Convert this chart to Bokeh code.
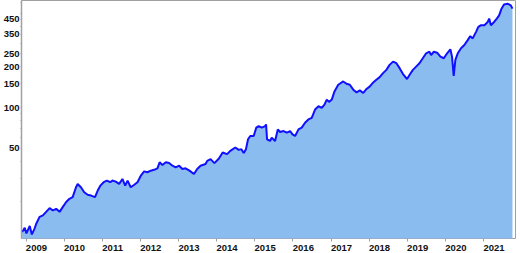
from datetime import datetime
import pandas as pd
from bokeh.plotting import figure
from bokeh.models import FixedTicker, DatetimeTickFormatter, Range1d
from bokeh.embed import file_html
from bokeh.resources import INLINE

# ---- data ----
dates = [
    "2008-11-24", "2008-12-19", "2009-01-04", "2009-02-05", "2009-02-25", "2009-03-23", "2009-04-08",
    "2009-05-10", "2009-06-11", "2009-07-12", "2009-08-14", "2009-09-15", "2009-10-16", "2009-11-18",
    "2009-12-19", "2010-01-20", "2010-02-20", "2010-03-23", "2010-04-24", "2010-05-10", "2010-06-10",
    "2010-07-12", "2010-08-14", "2010-09-15", "2010-10-23", "2010-11-18", "2010-12-13", "2011-01-14",
    "2011-02-14", "2011-03-17", "2011-04-08", "2011-05-10", "2011-06-11", "2011-07-13", "2011-08-08",
    "2011-08-31", "2011-09-30", "2011-11-03", "2011-12-04", "2012-01-05", "2012-02-06", "2012-03-08",
    "2012-04-09", "2012-05-11", "2012-06-12", "2012-07-03", "2012-07-30", "2012-08-31", "2012-10-02",
    "2012-11-03", "2012-12-04", "2013-01-06", "2013-02-06", "2013-03-08", "2013-04-15", "2013-05-28",
    "2013-06-28", "2013-07-30", "2013-09-16", "2013-10-02", "2013-11-03", "2013-12-10", "2014-01-22",
    "2014-02-27", "2014-04-10", "2014-05-11", "2014-06-28", "2014-07-31", "2014-08-25", "2014-09-17",
    "2014-10-08", "2014-10-28", "2014-11-18", "2014-12-21", "2015-01-15", "2015-02-07", "2015-03-09",
    "2015-04-10", "2015-04-19", "2015-04-28", "2015-05-27", "2015-06-12", "2015-07-14", "2015-08-09",
    "2015-08-31", "2015-10-03", "2015-11-04", "2015-12-05", "2015-12-28", "2016-01-22", "2016-02-23",
    "2016-03-25", "2016-04-26", "2016-05-28", "2016-06-29", "2016-07-31", "2016-09-02", "2016-10-03",
    "2016-10-29", "2016-11-20", "2016-12-12", "2017-01-07", "2017-02-02", "2017-03-10", "2017-04-27",
    "2017-05-28", "2017-06-29", "2017-08-01", "2017-09-02", "2017-10-03", "2017-11-05", "2017-12-06",
    "2018-01-07", "2018-02-08", "2018-03-10", "2018-04-11", "2018-05-13", "2018-06-14", "2018-07-15",
    "2018-08-17", "2018-09-18", "2018-10-19", "2018-11-19", "2018-12-29", "2019-01-23", "2019-02-23",
    "2019-03-26", "2019-04-27", "2019-05-29", "2019-06-30", "2019-07-31", "2019-08-17", "2019-09-12",
    "2019-10-13", "2019-11-14", "2019-12-16", "2020-01-17", "2020-02-17", "2020-03-04", "2020-03-20",
    "2020-04-05", "2020-04-28", "2020-05-29", "2020-06-30", "2020-08-01", "2020-08-26", "2020-09-18",
    "2020-10-20", "2020-11-11", "2020-12-07", "2021-01-08", "2021-02-09", "2021-02-23", "2021-03-11",
    "2021-04-11", "2021-05-07", "2021-05-29", "2021-06-21", "2021-07-15", "2021-08-18", "2021-09-18",
    "2021-10-04",
]
values = [
    12.0, 12.9, 11.7, 13.3, 11.5, 12.7, 13.8,
    15.5, 15.9, 16.9, 18.0, 17.3, 17.8, 16.9,
    18.4, 20.0, 21.1, 21.7, 25.7, 27.2, 25.7,
    23.6, 22.6, 22.3, 21.7, 24.3, 26.4, 28.0,
    28.8, 28.0, 28.8, 28.3, 27.2, 29.6, 26.4,
    28.8, 25.7, 26.8, 28.0, 31.3, 33.7, 33.2,
    34.1, 34.6, 35.5, 39.3, 37.5, 39.3, 38.8,
    37.1, 36.1, 37.1, 35.1, 35.5, 34.1, 32.2,
    35.1, 37.1, 38.2, 40.3, 41.5, 38.8, 42.0,
    46.5, 45.2, 47.8, 50.6, 48.6, 49.2, 46.0,
    49.2, 58.2, 61.6, 61.6, 71.0, 72.9, 71.0,
    72.9, 75.0, 58.2, 56.6, 59.9, 56.6, 68.9,
    65.9, 67.0, 65.2, 67.0, 63.3, 61.6, 68.9,
    71.0, 77.2, 81.6, 84.0, 96.7, 102.2, 99.5,
    105.2, 114.5, 110.1, 114.5, 131.7, 147.5, 156.0,
    150.0, 147.5, 135.6, 129.5, 134.0, 128.2, 137.2,
    143.4, 153.4, 160.6, 168.0, 179.8, 190.1, 206.9,
    218.8, 212.9, 195.7, 177.7, 162.4, 174.7, 190.1,
    201.0, 212.9, 231.7, 252.1, 259.0, 244.9, 259.0,
    254.7, 238.1, 231.7, 252.1, 269.8, 238.1, 171.8,
    225.1, 252.1, 274.4, 290.1, 315.7, 337.8, 324.9,
    363.3, 395.4, 406.9, 406.9, 430.2, 455.6, 406.9,
    430.2, 455.6, 481.7, 539.5, 580.1, 587.1, 570.4,
    539.5,
]
year_labels = ["2009", "2010", "2011", "2012", "2013", "2014", "2015",
               "2016", "2017", "2018", "2019", "2020", "2021"]
y_ticks = [50, 100, 150, 200, 250, 350, 450]
y_minor_ticks = [20, 30, 40, 60, 70, 80, 90, 300, 400, 500, 600]

x = pd.to_datetime(dates)

def ms(d):
    return (d - datetime(1970, 1, 1)).total_seconds() * 1000.0

p = figure(
    width=520, height=253,
    x_axis_type="datetime", y_axis_type="log",
    output_backend="svg", toolbar_location=None,
    min_border_left=19, min_border_right=5, min_border_top=0, min_border_bottom=13,
    x_range=Range1d(datetime(2008, 11, 18), datetime(2021, 11, 2)),
    y_range=Range1d(10.73, 620),
)
p.background_fill_color = "white"
p.border_fill_color = "white"
p.outline_line_color = "#a0a0a0"
p.xgrid.visible = False
p.ygrid.visible = False

p.varea(x=x, y1=1.0, y2=values, fill_color="#8bbcf0", fill_alpha=1.0)
p.line(x=x, y=values, line_color="#1010ff", line_width=2)

# x axis: tick marks on Jan 1 (minor), labels placed just right of each mark
jan1 = [ms(datetime(int(y), 1, 1)) for y in year_labels]
label_pos = [ms(datetime(int(y), 4, 10)) for y in year_labels]
p.xaxis.ticker = FixedTicker(ticks=label_pos, minor_ticks=jan1)
p.xaxis.formatter = DatetimeTickFormatter(
    years="%Y", months="%Y", days="%Y", hours="%Y", minutes="%Y",
    seconds="%Y", milliseconds="%Y", microseconds="%Y", hourmin="%Y", minsec="%Y",
)
p.xaxis.major_tick_out = 0
p.xaxis.major_tick_in = 0
p.xaxis.minor_tick_out = 3
p.xaxis.minor_tick_in = 0
p.xaxis.minor_tick_line_color = "#a0a0a0"
p.xaxis.axis_line_color = None
p.xaxis.major_label_standoff = 3

p.yaxis.ticker = FixedTicker(ticks=y_ticks, minor_ticks=y_minor_ticks)
p.yaxis.major_tick_out = 1
p.yaxis.major_tick_in = 0
p.yaxis.minor_tick_out = 1
p.yaxis.minor_tick_in = 0
p.yaxis.major_tick_line_color = "#a0a0a0"
p.yaxis.minor_tick_line_color = "#a0a0a0"
p.yaxis.axis_line_color = "#a0a0a0"
p.yaxis.axis_line_width = 1.5
p.yaxis.major_label_standoff = 1

for ax in (p.xaxis, p.yaxis):
    ax.major_label_text_font = "Liberation Sans"
    ax.major_label_text_font_style = "bold"
    ax.major_label_text_font_size = "9.5px"
    ax.major_label_text_color = "#111111"

open("out.html", "w").write(file_html(p, INLINE))
